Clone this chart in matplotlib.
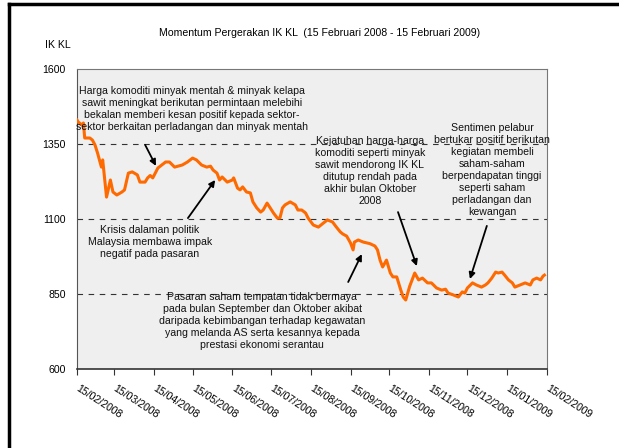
import matplotlib
matplotlib.use("Agg")
import matplotlib.pyplot as plt
from matplotlib import font_manager
from matplotlib.lines import Line2D
import pandas as pd

# font: narrow Arial look-alike if available
names = {f.name for f in font_manager.fontManager.ttflist}
if "Liberation Sans Narrow" in names:
    plt.rcParams["font.family"] = ["Liberation Sans Narrow", "DejaVu Sans"]
    fs = 9
else:
    plt.rcParams["font.family"] = ["Liberation Sans", "DejaVu Sans"]
    fs = 7.6

# IK KL index
dates = [
    "2008-02-15", "2008-02-16", "2008-02-19", "2008-02-20", "2008-02-21", "2008-02-25",
    "2008-02-27", "2008-02-29", "2008-03-02", "2008-03-05", "2008-03-06", "2008-03-09",
    "2008-03-12", "2008-03-14", "2008-03-17", "2008-03-21", "2008-03-23", "2008-03-26",
    "2008-03-29", "2008-04-02", "2008-04-04", "2008-04-08", "2008-04-10", "2008-04-12",
    "2008-04-14", "2008-04-18", "2008-04-24", "2008-04-27", "2008-05-01", "2008-05-07",
    "2008-05-11", "2008-05-15", "2008-05-18", "2008-05-22", "2008-05-26", "2008-05-29",
    "2008-05-31", "2008-06-03", "2008-06-05", "2008-06-07", "2008-06-11", "2008-06-15",
    "2008-06-16", "2008-06-19", "2008-06-21", "2008-06-23", "2008-06-26", "2008-06-29",
    "2008-07-01", "2008-07-04", "2008-07-07", "2008-07-09", "2008-07-12", "2008-07-14",
    "2008-07-17", "2008-07-20", "2008-07-22", "2008-07-24", "2008-07-26", "2008-07-30",
    "2008-08-03", "2008-08-05", "2008-08-08", "2008-08-11", "2008-08-13", "2008-08-17",
    "2008-08-21", "2008-08-25", "2008-08-28", "2008-09-01", "2008-09-04", "2008-09-07",
    "2008-09-09", "2008-09-12", "2008-09-15", "2008-09-17", "2008-09-18", "2008-09-21",
    "2008-09-25", "2008-09-30", "2008-10-04", "2008-10-06", "2008-10-08", "2008-10-10",
    "2008-10-13", "2008-10-16", "2008-10-18", "2008-10-21", "2008-10-24", "2008-10-26",
    "2008-10-28", "2008-10-31", "2008-11-04", "2008-11-07", "2008-11-10", "2008-11-14",
    "2008-11-17", "2008-11-21", "2008-11-25", "2008-11-28", "2008-11-30", "2008-12-04",
    "2008-12-08", "2008-12-11", "2008-12-13", "2008-12-15", "2008-12-19", "2008-12-22",
    "2008-12-26", "2008-12-29", "2008-12-31", "2009-01-03", "2009-01-06", "2009-01-08",
    "2009-01-11", "2009-01-13", "2009-01-16", "2009-01-19", "2009-01-21", "2009-01-25",
    "2009-01-29", "2009-02-02", "2009-02-04", "2009-02-07", "2009-02-10", "2009-02-12",
    "2009-02-13",
]
values = [
    1430, 1423, 1413, 1420, 1370, 1370,
    1363, 1347, 1320, 1273, 1297, 1173,
    1230, 1190, 1180, 1190, 1197, 1253,
    1257, 1247, 1223, 1223, 1237, 1245,
    1237, 1270, 1290, 1290, 1273, 1280,
    1290, 1303, 1297, 1280, 1273, 1276,
    1263, 1253, 1230, 1240, 1223, 1230,
    1237, 1203, 1197, 1207, 1190, 1187,
    1157, 1137, 1123, 1130, 1153, 1140,
    1120, 1103, 1103, 1137, 1147, 1157,
    1147, 1130, 1130, 1120, 1103, 1080,
    1073, 1087, 1097, 1090, 1073, 1057,
    1050, 1043, 1020, 997, 1023, 1030,
    1023, 1018, 1010, 997, 963, 940,
    963, 920, 907, 907, 865, 840,
    830, 875, 920, 897, 903, 887,
    887, 870, 863, 866, 853, 847,
    840, 857, 853, 870, 887, 880,
    873, 880, 887, 903, 923, 920,
    923, 913, 897, 887, 873, 880,
    887, 880, 897, 903, 897, 910,
    913,
]
tick_dates = pd.date_range("2008-02-01", "2009-02-01", freq="MS") + pd.Timedelta(days=14)
yticks = [600, 850, 1100, 1350, 1600]

notes = [
    "Harga komoditi minyak mentah & minyak kelapa\nsawit meningkat berikutan permintaan melebihi\n"
    "bekalan memberi kesan positif kepada sektor-\nsektor berkaitan perladangan dan minyak mentah",
    "Krisis dalaman politik\nMalaysia membawa impak\nnegatif pada pasaran",
    "Pasaran saham tempatan tidak bermaya\npada bulan September dan Oktober akibat\n"
    "daripada kebimbangan terhadap kegawatan\nyang melanda AS serta kesannya kepada\nprestasi ekonomi serantau",
    "Kejatuhan harga-harga\nkomoditi seperti minyak\nsawit mendorong IK KL\nditutup rendah pada\nakhir bulan Oktober\n2008",
    "Sentimen pelabur\nbertukar positif berikutan\nkegiatan membeli\nsaham-saham\nberpendapatan tinggi\nseperti saham\nperladangan dan\nkewangan",
]

x = pd.to_datetime(dates)

fig = plt.figure(figsize=(6.19, 4.48), dpi=100)
ax = fig.add_axes([77/619, 1-369/448, 470/619, 300/448])
ax.set_facecolor("#efefef")

for g in [850, 1100, 1350]:
    ax.axhline(g, color="#333333", lw=0.8, dashes=(5, 5), zorder=1)

ax.plot(x, values, color="#ff6a00", lw=2.2, zorder=3)

ax.set_xlim(tick_dates[0], tick_dates[-1])
ax.set_ylim(600, 1600)
ax.set_yticks(yticks)
ax.set_yticklabels([str(v) for v in yticks], fontsize=fs)
ax.set_xticks(tick_dates)
ax.set_xticklabels([d.strftime("%d/%m/%Y") for d in tick_dates], fontsize=fs,
                   rotation=-33, ha="left", va="center", rotation_mode="anchor")
ax.tick_params(axis="x", length=4, width=0.8, color="#333333", pad=9)
ax.tick_params(axis="y", length=0, pad=8)
for s in ["top", "right"]:
    ax.spines[s].set_color("#777777")
ax.spines["left"].set_color("#555555")
ax.spines["bottom"].set_color("#333333")
ax.spines["bottom"].set_linewidth(1.2)

# annotations: (text centre, arrow tail, arrow head) in axes fraction
places = [
    ((0.245, 0.867), (0.145, 0.747), (0.168, 0.677)),
    ((0.155, 0.423), (0.236, 0.503), (0.294, 0.630)),
    ((0.394, 0.160), (0.577, 0.290), (0.606, 0.383)),
    ((0.623, 0.660), (0.683, 0.523), (0.723, 0.343)),
    ((0.883, 0.663), (0.872, 0.477), (0.836, 0.300)),
]
for txt, (c, tail, head) in zip(notes, places):
    ax.text(c[0], c[1], txt, transform=ax.transAxes, ha="center", va="center",
            fontsize=fs, linespacing=1.25, color="#111111", zorder=4)
    ax.annotate("", xy=head, xytext=tail, xycoords="axes fraction",
                arrowprops=dict(arrowstyle="-|>", color="black", lw=1.3,
                                mutation_scale=9, shrinkA=0, shrinkB=0), zorder=5)

fig.text(320/619, 1-33/448, "Momentum Pergerakan IK KL  (15 Februari 2008 - 15 Februari 2009)",
         ha="center", va="center", fontsize=fs)
fig.text(45/619, 1-45/448, "IK KL", ha="left", va="center", fontsize=fs)

# black frame of the original (left and top edges)
fig.add_artist(Line2D([9/619, 9/619], [0, 1-4/448], color="black", lw=2.5, transform=fig.transFigure))
fig.add_artist(Line2D([9/619, 1], [1-4/448, 1-4/448], color="black", lw=2.5, transform=fig.transFigure))

fig.savefig("out.png", dpi=100)
